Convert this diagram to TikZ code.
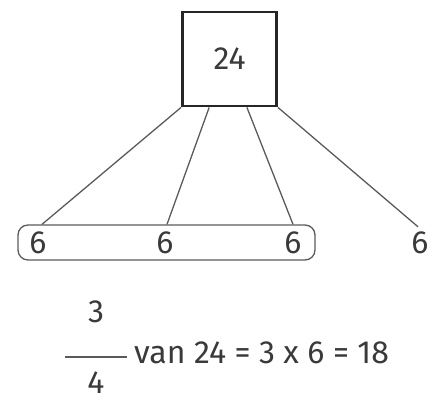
\documentclass[tikz,border=0pt]{standalone}
\usepackage{fontspec}
\setmainfont{Fira Sans}
\usepackage{tikz}
\usetikzlibrary{calc,positioning,fit}
\definecolor{txtgray}{HTML}{3A3A3A}
\definecolor{linegray}{HTML}{5A5A5A}
\definecolor{boxgray}{HTML}{262626}

\begin{document}
\begin{tikzpicture}[x=1pt, y=1pt,
  every node/.style={font=\fontsize{32}{38}\selectfont, text=txtgray},
  wholebox/.style={draw=boxgray, line width=2.8pt, minimum size=94pt, inner sep=0pt},
  part/.style={inner sep=0pt, minimum size=24pt},
  groupbox/.style={draw=linegray, line width=1.3pt, rounded corners=10pt,
    inner xsep=0pt, inner ysep=0pt, minimum height=35pt},
  link/.style={draw=linegray, line width=1.3pt}]

  \useasboundingbox (0,0) rectangle (440,401);

  \node[wholebox] (whole) at (229.5,342) {24};

  \foreach \k/\xpos in {1/38, 2/165, 3/293, 4/420}
    \node[part] (six\k) at (\xpos,158) {6};

  \node[groupbox, minimum width=297pt] (grp) at (166.5,158.5) {};

  \draw[link] (whole.south west) -- (grp.north -| 42,0);
  \draw[link] ($(whole.south west)!0.29!(whole.south east)$) -- (grp.north -| 167,0);
  \draw[link] ($(whole.south west)!0.68!(whole.south east)$) -- (grp.north -| six3);
  \draw[link] (whole.south east) -- ([xshift=-2pt,yshift=4pt]six4.north);

  % fraction 3/4
  \node[part] (num) at (96,89) {3};
  \node[part] (den) at (96,18) {4};
  \coordinate (barl) at (65,44);
  \coordinate (barr) at (127,44);
  \draw[link] (barl) -- (barr);
  \node[anchor=west, inner sep=0pt] (sum) at (134,48)
    {van 24 = 3 x 6 = 18};

\end{tikzpicture}
\end{document}
